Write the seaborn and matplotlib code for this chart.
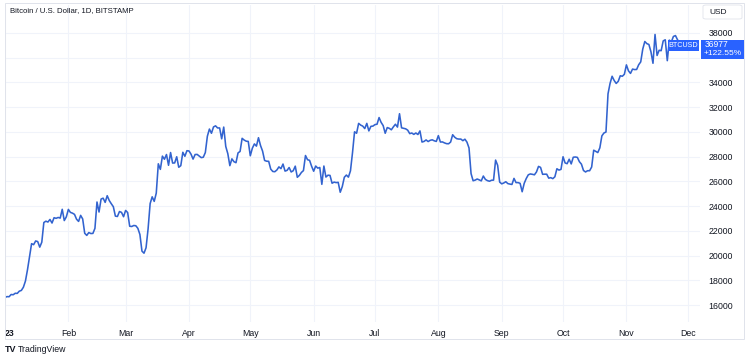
import numpy as np
import pandas as pd
import matplotlib
matplotlib.use("Agg")
import matplotlib.pyplot as plt
import matplotlib.dates as mdates
from matplotlib.patches import Rectangle, FancyBboxPatch
import seaborn as sns

# ---- data (daily closes, BTC/USD 2023) ----
jan = [16615, 16680, 16670, 16850, 16830, 16950, 16940, 17120, 17180, 17440, 17940, 18850,
       19930, 20960, 20880, 21180, 21130, 20680, 21080, 22670, 22780, 22710, 22920, 22630,
       23060, 23010, 23080, 23030, 23740, 22830, 23130]
feb = [23730, 23490, 23430, 23330, 22940, 22760, 23250, 22960, 21800, 21630, 21860, 21780,
       21790, 22200, 24330, 23520, 24570, 24640, 24300, 24840, 24450, 24190, 23950, 23190,
       23160, 23560, 23490, 23140]
mar = [23650, 23480, 22370, 22350, 22430, 22410, 22200, 21700, 20360, 20190, 20630, 22160,
       24200, 24750, 24380, 25050, 27420, 26970, 28040, 27790, 28170, 27300, 28330, 27480,
       27490, 27990, 27140, 27270, 28350, 28030, 28480]
apr = [28460, 28200, 27800, 28170, 28180, 28050, 27920, 27950, 28330, 29650, 30230, 29890,
       30400, 30490, 30320, 30320, 29440, 30390, 28820, 28240, 27270, 27820, 27590, 27510,
       28300, 28420, 29480, 29340, 29250, 29230]
may = [28070, 28680, 29030, 28850, 29530, 28900, 28450, 27690, 27630, 27620, 26990, 26800,
       26780, 26920, 27170, 27030, 27400, 26830, 26890, 27120, 26760, 26860, 27230, 26330,
       26480, 26720, 26870, 28090, 27750, 27700, 27220]
jun = [26820, 27240, 27070, 27120, 25760, 27240, 26350, 26500, 26480, 25850, 25940, 25900,
       25920, 25120, 25580, 26330, 26510, 26340, 26850, 28310, 30010, 29890, 30690, 30550,
       30470, 30270, 30690, 30080, 30450, 30470]
jul = [30590, 30620, 31160, 30770, 30510, 29890, 30350, 30290, 30170, 30410, 30620, 30390,
       31470, 30330, 30290, 30250, 30140, 29860, 29910, 29800, 29910, 29790, 30080, 29180,
       29230, 29350, 29220, 29320, 29360, 29280, 29230]
aug = [29700, 29180, 29190, 29110, 29050, 29040, 29180, 29770, 29570, 29450, 29420, 29420,
       29290, 29410, 29170, 28700, 26630, 26050, 26100, 26190, 26120, 26040, 26430, 26160,
       26060, 26010, 26090, 26100, 27720, 27300, 25940]
sep = [25800, 25870, 25970, 25820, 25780, 25750, 26240, 25900, 25900, 25840, 25160, 25840,
       26230, 26530, 26600, 26570, 26530, 26760, 27210, 27130, 26570, 26580, 26580, 26260,
       26300, 26220, 26370, 27020, 26910, 26970]
oct_ = [27990, 27490, 27430, 27790, 27410, 27950, 27970, 27940, 27590, 27390, 26880, 26760,
        26860, 26860, 27160, 28520, 28420, 28330, 28710, 29680, 29910, 29990, 33080, 33920,
        34500, 34160, 33920, 34090, 34540, 34500, 34660]
nov = [35420, 34940, 34730, 35080, 35040, 35050, 35430, 35660, 36700, 37310, 37140, 37070,
       36480, 35550, 37880, 36180, 36600, 36570, 37360, 37450, 35760, 37420, 37290, 37720,
       37790, 37450, 37240, 36977]

month_labels = ["23", "Feb", "Mar", "Apr", "May", "Jun", "Jul", "Aug", "Sep", "Oct", "Nov", "Dec"]
y_ticks = [16000, 18000, 20000, 22000, 24000, 26000, 28000, 30000, 32000, 34000, 36000, 38000]
symbol = "BTCUSD"
last_price = 36977
change_pct = "+122.55%"
title = "Bitcoin / U.S. Dollar, 1D, BITSTAMP"

closes = jan + feb + mar + apr + may + jun + jul + aug + sep + oct_ + nov
dates = pd.date_range("2023-01-01", periods=len(closes), freq="D")
df = pd.DataFrame({"date": dates, "close": closes})

# ---- figure ----
sns.set_theme(style="white")
plt.rcParams["font.family"] = ["Liberation Sans", "DejaVu Sans"]

W, H = 750, 359
fig = plt.figure(figsize=(W / 100, H / 100), dpi=100)
fig.patch.set_facecolor("white")

def fx(px):
    return px / W

def fy(py):
    return 1 - py / H

left, right, top, bottom = 5, 700, 5, 322
ax = fig.add_axes([fx(left), fy(bottom), fx(right - left), (bottom - top) / H])
ax.set_facecolor("white")

line_color = "#3263cf"
sns.lineplot(data=df, x="date", y="close", ax=ax, color=line_color, linewidth=1.15)

start = pd.Timestamp("2023-01-01")
ax.set_xlim(start, start + pd.Timedelta(days=340))
ax.set_ylim(14626, 40263)

month_starts = pd.date_range("2023-01-01", periods=12, freq="MS")
ax.set_xticks(month_starts)
ax.set_xticklabels(month_labels)
ax.set_yticks(y_ticks)
# the 36000 label is hidden behind the last-price box in the reference
ax.set_yticklabels(["" if v == 36000 else str(v) for v in y_ticks])
ax.yaxis.tick_right()
ax.tick_params(axis="both", length=0, labelsize=6.3, colors="#131722")
ax.tick_params(axis="y", pad=6)
ax.tick_params(axis="x", pad=5)
xl = ax.get_xticklabels()
xl[0].set_fontweight("bold")
xl[0].set_horizontalalignment("left")
for lab in xl[1:]:
    lab.set_horizontalalignment("center")

ax.grid(True, color="#f0f3fa", linewidth=0.8)
ax.set_axisbelow(True)
for s in ax.spines.values():
    s.set_visible(False)
ax.set_xlabel("")
ax.set_ylabel("")

# outer frame
fig.patches.append(FancyBboxPatch((fx(5), fy(339)), fx(739), (339 - 3) / H,
                                  boxstyle="square,pad=0", transform=fig.transFigure,
                                  fill=False, edgecolor="#e0e3eb", linewidth=0.7, zorder=0))

# title
fig.text(fx(10), fy(11), title, fontsize=5.6, color="#131722", va="center", ha="left")

# USD box
fig.patches.append(FancyBboxPatch((fx(703), fy(19)), fx(39), 14 / H,
                                  boxstyle="round,pad=0,rounding_size=0.004",
                                  transform=fig.transFigure, facecolor="white",
                                  edgecolor="#e0e3eb", linewidth=0.6, zorder=3))
fig.text(fx(709), fy(12), "USD", fontsize=6, color="#131722", va="center", ha="left", zorder=4)

# last price labels
yp = ax.transData.transform((0, last_price))[1]
ypx = H - yp
fig.patches.append(Rectangle((fx(668), fy(ypx + 5.5)), fx(31), 11 / H, transform=fig.transFigure,
                             facecolor="#2962ff", edgecolor="none", zorder=5))
fig.text(fx(683.5), fy(ypx), symbol, fontsize=5.2, color="white", va="center", ha="center", zorder=6)
fig.patches.append(Rectangle((fx(701), fy(ypx + 13)), fx(43), 19 / H, transform=fig.transFigure,
                             facecolor="#2962ff", edgecolor="none", zorder=5))
fig.text(fx(705), fy(ypx - 1), f"{last_price}", fontsize=6.2, color="white", va="center",
         ha="left", zorder=6)
fig.text(fx(704), fy(ypx + 7.5), change_pct, fontsize=6.0, color="white", va="center",
         ha="left", zorder=6)

# footer
fig.text(fx(5), fy(349), "TV", fontsize=6.5, fontweight="bold", color="#131722",
         va="center", ha="left")
fig.text(fx(18), fy(349), "TradingView", fontsize=6.3, color="#131722", va="center", ha="left")

fig.savefig("out.png", dpi=100, facecolor="white")
